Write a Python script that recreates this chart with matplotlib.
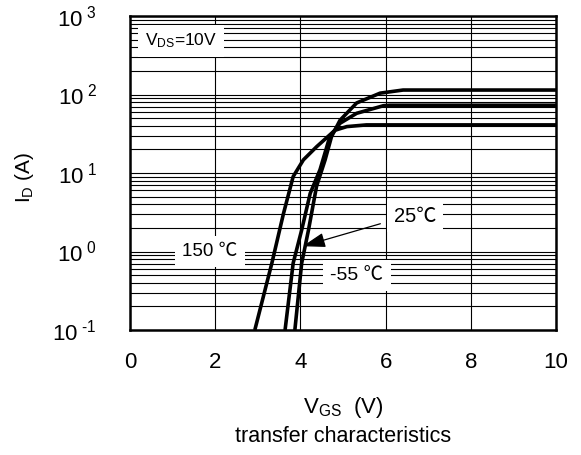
import numpy as np
import matplotlib
matplotlib.use('Agg')
import matplotlib.pyplot as plt
from matplotlib.ticker import FixedLocator, FixedFormatter, LogLocator, NullFormatter

plt.rcParams['font.family'] = ['Liberation Sans', 'Noto Sans CJK SC', 'DejaVu Sans']
plt.rcParams['mathtext.fontset'] = 'custom'
plt.rcParams['mathtext.rm'] = 'Liberation Sans'
plt.rcParams['mathtext.it'] = 'Liberation Sans'

# --- data (VGS in V, ID in A) ---
vgs_150 = [2.93, 3.33, 3.6, 3.83, 4.07, 4.38, 4.81, 5.09, 5.55, 10]
id_150 = [0.1, 0.71, 3.0, 9.0, 14.7, 21.6, 35, 39, 41, 41]

vgs_25 = [3.64, 3.83, 4.03, 4.23, 4.46, 4.69, 4.93, 5.32, 5.95, 6.1, 10]
id_25 = [0.1, 0.71, 1.88, 5.5, 11, 29, 43, 57.6, 72, 73, 73]

vgs_m55 = [3.87, 4.03, 4.19, 4.38, 4.58, 4.73, 4.93, 5.32, 5.87, 6.41, 10]
id_m55 = [0.1, 0.71, 1.88, 6.8, 14.7, 29, 47, 78, 104, 114, 114]

x_ticks = [0, 2, 4, 6, 8, 10]
y_ticks = [0.1, 1, 10, 100, 1000]
y_labels = ['10$^{\\ \\text{-1}}$', '10$^{\\ 0}$', '10$^{\\ 1}$', '10$^{\\ 2}$', '10$^{\\ 3}$']

fig = plt.figure(figsize=(5.81, 4.55), dpi=100)
ax = fig.add_axes([130/581, 125/455, 426/581, 314/455])

ax.set_yscale('log')
ax.set_xlim(0, 10)
ax.set_ylim(0.1, 1000)

# grid
ax.yaxis.set_major_locator(FixedLocator(y_ticks))
ax.yaxis.set_major_formatter(FixedFormatter(y_labels))
ax.yaxis.set_minor_locator(LogLocator(base=10, subs=np.arange(2, 10)))
ax.yaxis.set_minor_formatter(NullFormatter())
ax.set_xticks(x_ticks)
ax.set_xticklabels([str(t) for t in x_ticks])
ax.grid(True, which='both', axis='y', color='black', lw=0.8)
ax.grid(True, which='major', axis='x', color='black', lw=0.8)
ax.tick_params(which='both', length=0)
ax.tick_params(axis='x', labelsize=16, pad=16)
ax.tick_params(axis='y', labelsize=16, pad=24)
for s in ax.spines.values():
    s.set_linewidth(1.8)

# curves
for v, i in [(vgs_150, id_150), (vgs_25, id_25), (vgs_m55, id_m55)]:
    ax.plot(v, i, color='black', lw=2.6, solid_capstyle='butt', zorder=3)

box = dict(facecolor='white', edgecolor='none', pad=5)
ax.text(1.2, 480, 'V$_{\\mathrm{DS}}$=10V', fontsize=12.5, ha='center', va='center', bbox=box, zorder=4)
ax.text(1.88, 1.0, '150 ℃', fontsize=13.5, ha='center', va='center', bbox=box, zorder=4)
ax.text(6.69, 2.83, '25℃', fontsize=14.5, ha='center', va='center', bbox=box, zorder=4)
ax.text(5.33, 0.5, '-55 ℃', fontsize=14, ha='center', va='center', bbox=box, zorder=4)
ax.annotate('', xy=(3.99, 1.14), xytext=(5.94, 2.31),
            arrowprops=dict(arrowstyle='-|>,head_length=1.4,head_width=0.45', color='black', lw=0.9),
            zorder=5)

fig.text(25/581, 1 - 177/455, 'I$_{\\mathrm{D}}$ (A)', rotation=90, fontsize=15, ha='center', va='center')
fig.text(343/581, 1 - 407/455, 'V$_{\\mathrm{GS}}$  (V)', fontsize=16, ha='center', va='center')
fig.text(343/581, 1 - 437/455, 'transfer characteristics', fontsize=15.5, ha='center', va='center')

fig.savefig('out.png', dpi=100)
